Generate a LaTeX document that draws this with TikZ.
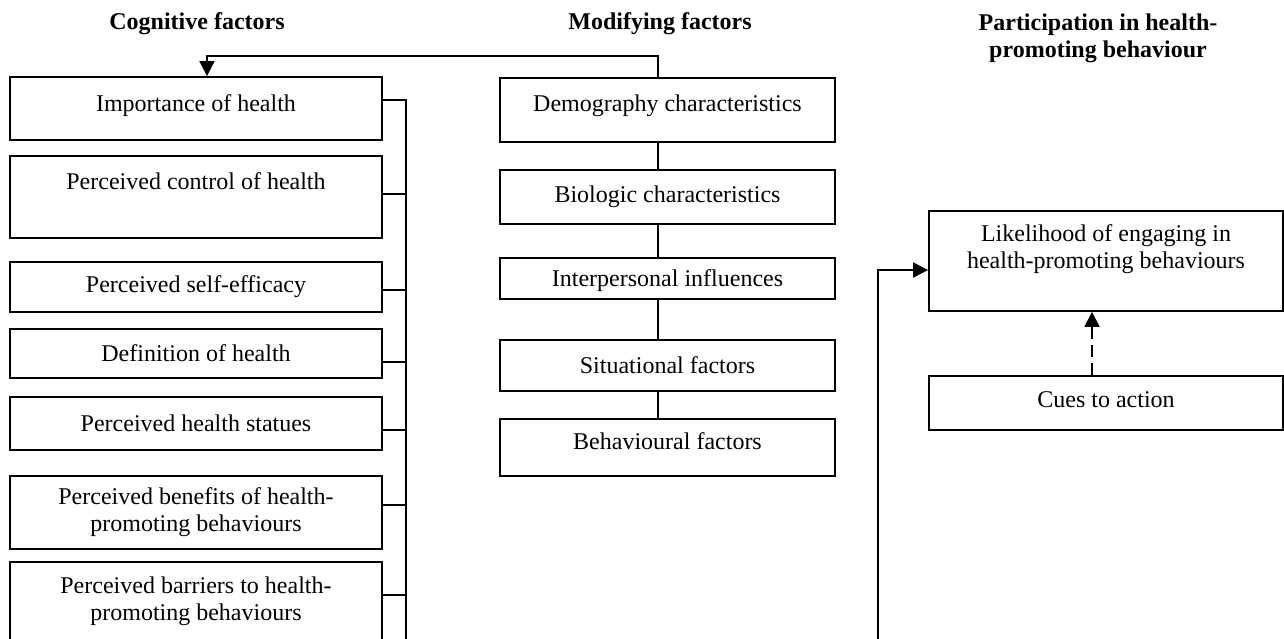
\documentclass[tikz,border=0pt]{standalone}
\usepackage{fontspec}
\setmainfont{Liberation Serif}
\usepackage{tikz}
\usetikzlibrary{arrows.meta}

\begin{document}
\begin{tikzpicture}[
    x=0.5pt, y=-0.5pt,
    % 1. Estilo base de las cajas
    box/.style={
        draw, line width=0.9pt, inner sep=2pt,
        align=center, font=\fontsize{12}{13.5}\selectfont
    },
    % 2. Anchos de cada columna
    cog/.style={box, minimum width=186pt},
    modif/.style={box, minimum width=167.5pt},
    part/.style={box, minimum width=177pt},
    % 3. Titulos de columna
    head/.style={align=center, font=\bfseries\fontsize{12}{13.5}\selectfont},
    % 4. Lineas y flechas
    line/.style={line width=0.9pt},
    arrow/.style={line, -{Triangle[length=7.5pt, width=7.5pt]}}
]
    \useasboundingbox (0,0) rectangle (1284,638);

    % --- TITULOS ---
    \node[head] (tcog) at (197, 24) {Cognitive factors};
    \node[head] (tmod) at (660, 24) {Modifying factors};
    \node[head] (tpart) at (1098, 38) {Participation in health-\\promoting behaviour};

    % --- COLUMNA 1 ---
    \node[cog, minimum height=31.5pt, text depth=5.2pt] (imp) at (196, 108.5) {Importance of health};
    \node[cog, minimum height=41pt, text depth=16.2pt] (ctrl) at (196, 197) {Perceived control of health};
    \node[cog, minimum height=25pt] (self) at (196, 287) {Perceived self-efficacy};
    \node[cog, minimum height=24.5pt] (defh) at (196, 353.5) {Definition of health};
    \node[cog, minimum height=26.5pt] (stat) at (196, 423.5) {Perceived health statues};
    \node[cog, minimum height=36.5pt] (bene) at (196, 512.5) {Perceived benefits of health-\\promoting behaviours};
    \node[cog, minimum height=39pt] (barr) at (196, 601) {Perceived barriers to health-\\promoting behaviours};

    \coordinate (bus) at (406, 100);
    \coordinate (busend) at (406, 650);
    \draw[line] (imp.east |- bus) -- (bus) -- (busend);
    \draw[line] (ctrl.east |- 0,194) -- (bus |- 0,194);
    \draw[line] (self.east |- 0,290) -- (bus |- 0,290);
    \draw[line] (defh.east |- 0,362) -- (bus |- 0,362);
    \draw[line] (stat.east |- 0,430) -- (bus |- 0,430);
    \draw[line] (bene.east |- 0,505) -- (bus |- 0,505);
    \draw[line] (barr.east |- 0,595) -- (bus |- 0,595);

    % --- COLUMNA 2 ---
    \node[modif, minimum height=32pt, text depth=7.2pt] (demo) at (667.5, 110) {Demography characteristics};
    \node[modif, minimum height=27pt] (bio) at (667.5, 197) {Biologic characteristics};
    \node[modif, minimum height=20.5pt, text depth=0pt] (inter) at (667.5, 278.5) {Interpersonal influences};
    \node[modif, minimum height=25.5pt] (sit) at (667.5, 365.5) {Situational factors};
    \node[modif, minimum height=28.5pt, text depth=6.2pt] (beh) at (667.5, 447.5) {Behavioural factors};

    \coordinate (link) at (658, 56);
    \coordinate (cogin) at (207, 56);
    \draw[arrow] (demo.north -| link) -- (link) -- (cogin) -- (cogin |- imp.north);
    \draw[line] (demo.south -| link) -- (bio.north -| link);
    \draw[line] (bio.south -| link) -- (inter.north -| link);
    \draw[line] (inter.south -| link) -- (sit.north -| link);
    \draw[line] (sit.south -| link) -- (beh.north -| link);

    % --- COLUMNA 3 ---
    \node[part, minimum height=50pt, text depth=14pt] (like) at (1106, 261) {Likelihood of engaging in\\health-promoting behaviours};
    \node[part, minimum height=27pt, text depth=3.2pt] (cues) at (1106, 403) {Cues to action};

    \coordinate (feed) at (878, 650);
    \draw[arrow] (feed) -- (feed |- 0,270) -- (like.west |- 0,270);
    \draw[arrow, dash pattern=on 6pt off 3pt] (cues.north -| 1092,0) -- (like.south -| 1092,0);

\end{tikzpicture}
\end{document}
